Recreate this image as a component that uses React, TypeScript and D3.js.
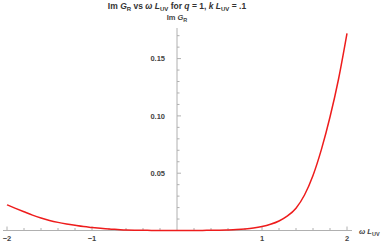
import React from "react";
import * as d3 from "d3";

const omega = [-2, -1.9, -1.8, -1.7, -1.6, -1.5, -1.4, -1.3, -1.2, -1.1, -1.0, -0.9, -0.8, -0.7, -0.6, -0.5, -0.4, -0.3, -0.2, -0.1, 0, 0.1, 0.2, 0.3, 0.4, 0.5, 0.6, 0.7, 0.8, 0.9, 1.0, 1.1, 1.2, 1.3, 1.4, 1.5, 1.6, 1.7, 1.8, 1.9, 2.0];
const imG = [0.0224, 0.0193, 0.0163, 0.0134, 0.0109, 0.0088, 0.0071, 0.0057, 0.0045, 0.0034, 0.0026, 0.0019, 0.0013, 0.0009, 0.0005, 0.0003, 0.0002, 0.0001, 0, 0, 0, 0, 0, 0.0001, 0.0002, 0.0003, 0.0005, 0.0008, 0.0013, 0.0021, 0.0034, 0.0054, 0.0083, 0.0127, 0.0195, 0.031, 0.048, 0.071, 0.099, 0.132, 0.172];
const xMajor = [-2, -1, 1, 2];
const xMajorLabels = ["\u22122", "\u22121", "1", "2"];
const yMajor = [0.05, 0.1, 0.15];
const yMajorLabels = ["0.05", "0.10", "0.15"];

const W = 382, H = 242;

export default function App() {
  const x = d3.scaleLinear().domain([-2, 2]).range([7, 347]);
  const y = d3.scaleLinear().domain([0, 0.05]).range([230.5, 173.2]);
  const x0 = x(0);
  const y0 = y(0);
  const xMinor = d3.range(-2, 2.001, 0.2).map(v => Math.round(v * 10) / 10).filter(v => !xMajor.includes(v) && v !== 0);
  const yMinor = d3.range(0.01, 0.171, 0.01).map(v => Math.round(v * 100) / 100).filter(v => !yMajor.some(m => Math.abs(m - v) < 1e-9));
  const line = d3.line<number>().x((_, i) => x(omega[i])).y(d => y(d)).curve(d3.curveMonotoneX);
  const font = "'Liberation Sans', Arial, sans-serif";
  const tickCol = "#b0b0b0";
  const labCol = "#444";
  return (
    <svg width={W} height={H} style={{ position: "absolute", left: 0, top: 0 }} fontFamily={font}>
      <rect width={W} height={H} fill="#fff" />
      <line x1={3} x2={352} y1={y0} y2={y0} stroke={tickCol} strokeWidth={1} />
      <line x1={x0} x2={x0} y1={28} y2={y0} stroke={tickCol} strokeWidth={1} />
      {xMajor.map(v => (
        <line key={"xm" + v} x1={x(v)} x2={x(v)} y1={y0} y2={y0 - 4} stroke={tickCol} />
      ))}
      {xMinor.map(v => (
        <line key={"xn" + v} x1={x(v)} x2={x(v)} y1={y0} y2={y0 - 2.5} stroke={tickCol} />
      ))}
      {yMajor.map(v => (
        <line key={"ym" + v} x1={x0} x2={x0 + 4} y1={y(v)} y2={y(v)} stroke={tickCol} />
      ))}
      {yMinor.map(v => (
        <line key={"yn" + v} x1={x0} x2={x0 + 2.5} y1={y(v)} y2={y(v)} stroke={tickCol} />
      ))}
      {xMajor.map((v, i) => (
        <text key={"xl" + v} x={x(v)} y={y0 + 10} textAnchor="middle" fontSize={7.5} fontWeight="bold" fill={labCol}>{xMajorLabels[i]}</text>
      ))}
      {yMajor.map((v, i) => (
        <text key={"yl" + v} x={x0 - 12} y={y(v) + 2.7} textAnchor="end" fontSize={7.5} fontWeight="bold" fill={labCol}>{yMajorLabels[i]}</text>
      ))}
      <path d={line(imG) || ""} fill="none" stroke="#ee1c1c" strokeWidth={1.5} />
      <text x={359} y={y0 + 3} fontSize={7.5} fontWeight="bold" fill={labCol}>
        <tspan fontStyle="italic">ω</tspan> <tspan fontStyle="italic">L</tspan><tspan fontSize={5.5} dy={2}>UV</tspan>
      </text>
      <text x={x0} y={19.5} textAnchor="middle" fontSize={7.5} fontWeight="bold" fill={labCol}>
        Im <tspan fontStyle="italic">G</tspan><tspan fontSize={5.5} dy={2}>R</tspan>
      </text>
      <text x={x0} y={9} textAnchor="middle" fontSize={8.5} fontWeight="bold" fill="#333">
        Im <tspan fontStyle="italic">G</tspan><tspan fontSize={6} dy={2}>R</tspan><tspan dy={-2}> vs </tspan><tspan fontStyle="italic">ω</tspan> <tspan fontStyle="italic">L</tspan><tspan fontSize={6} dy={2}>UV</tspan><tspan dy={-2}> for </tspan><tspan fontStyle="italic">q</tspan> = 1,  <tspan fontStyle="italic">k</tspan> <tspan fontStyle="italic">L</tspan><tspan fontSize={6} dy={2}>UV</tspan><tspan dy={-2}> = .1</tspan>
      </text>
    </svg>
  );
}
